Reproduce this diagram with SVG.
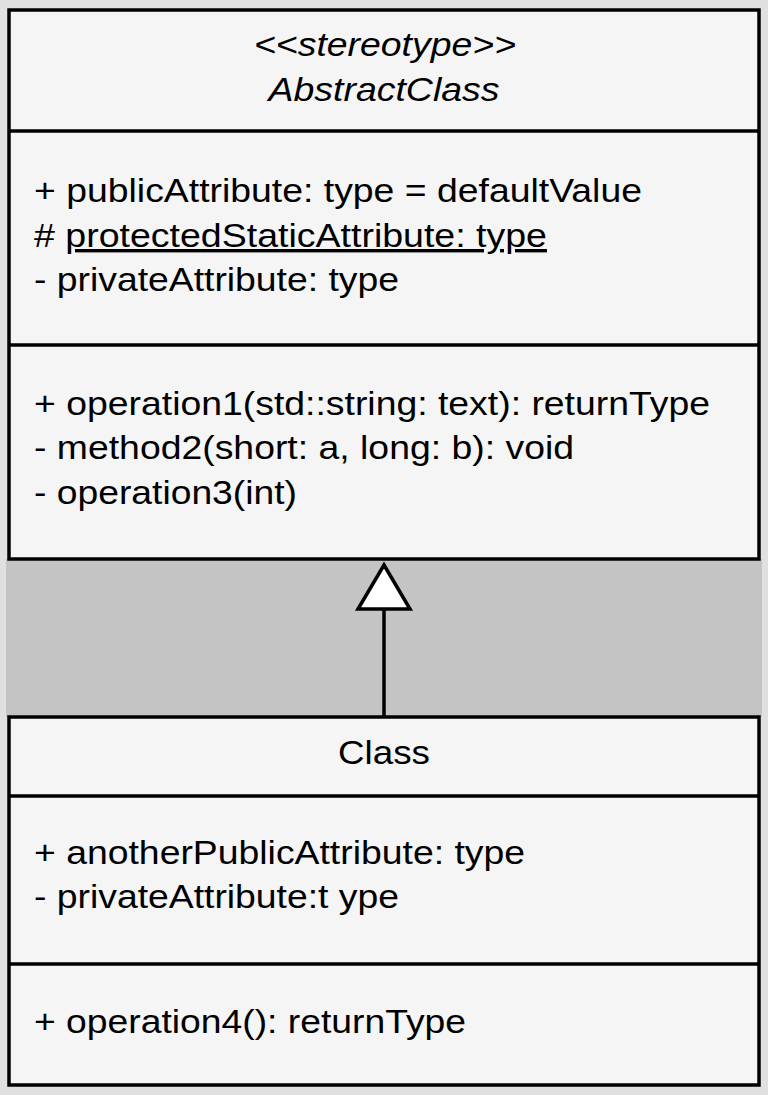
<svg xmlns="http://www.w3.org/2000/svg" width="768" height="1095" viewBox="0 0 768 1095">
<style>
.box{fill:#f5f5f5;stroke:#000;stroke-width:3.5}
.sep{stroke:#000;stroke-width:3.5}
text{font-family:"Liberation Sans",Arial,sans-serif;font-size:34px;fill:#000}
.c{text-anchor:middle}
.i{font-style:italic}
</style>
<rect x="0" y="0" width="768" height="1095" fill="#e0e0e0"/>
<rect x="6" y="559" width="756" height="158" fill="#c4c4c4"/>
<g id="abstract-class">
<rect class="box" x="9" y="10" width="750" height="549"/>
<line class="sep" x1="9" y1="131" x2="759" y2="131"/>
<line class="sep" x1="9" y1="345" x2="759" y2="345"/>
<text class="c i" x="385" y="56" textLength="262" lengthAdjust="spacingAndGlyphs">&lt;&lt;stereotype&gt;&gt;</text>
<text class="c i" x="384" y="101" textLength="231" lengthAdjust="spacingAndGlyphs">AbstractClass</text>
<text x="34" y="202" textLength="608" lengthAdjust="spacingAndGlyphs">+ publicAttribute: type = defaultValue</text>
<text x="34" y="247" textLength="513" lengthAdjust="spacingAndGlyphs"># <tspan text-decoration="underline">protectedStaticAttribute: type</tspan></text>
<text x="34" y="291" textLength="365" lengthAdjust="spacingAndGlyphs">- privateAttribute: type</text>
<text x="34" y="415" textLength="676" lengthAdjust="spacingAndGlyphs">+ operation1(std::string: text): returnType</text>
<text x="34" y="459" textLength="540" lengthAdjust="spacingAndGlyphs">- method2(short: a, long: b): void</text>
<text x="34" y="504" textLength="263" lengthAdjust="spacingAndGlyphs">- operation3(int)</text>
</g>
<g id="class">
<rect class="box" x="9" y="717" width="750" height="368"/>
<line class="sep" x1="9" y1="796" x2="759" y2="796"/>
<line class="sep" x1="9" y1="964" x2="759" y2="964"/>
<text class="c" x="384" y="764" textLength="92" lengthAdjust="spacingAndGlyphs">Class</text>
<text x="34" y="864" textLength="491" lengthAdjust="spacingAndGlyphs">+ anotherPublicAttribute: type</text>
<text x="34" y="908" textLength="365" lengthAdjust="spacingAndGlyphs">- privateAttribute:t ype</text>
<text x="34" y="1033" textLength="432" lengthAdjust="spacingAndGlyphs">+ operation4(): returnType</text>
</g>
<g id="connectors">
<line x1="384" y1="717" x2="384" y2="609" stroke="#000" stroke-width="3.5"/>
<polygon points="384,565 410,609 358,609" fill="#fff" stroke="#000" stroke-width="3.5"/>
</g>
</svg>
